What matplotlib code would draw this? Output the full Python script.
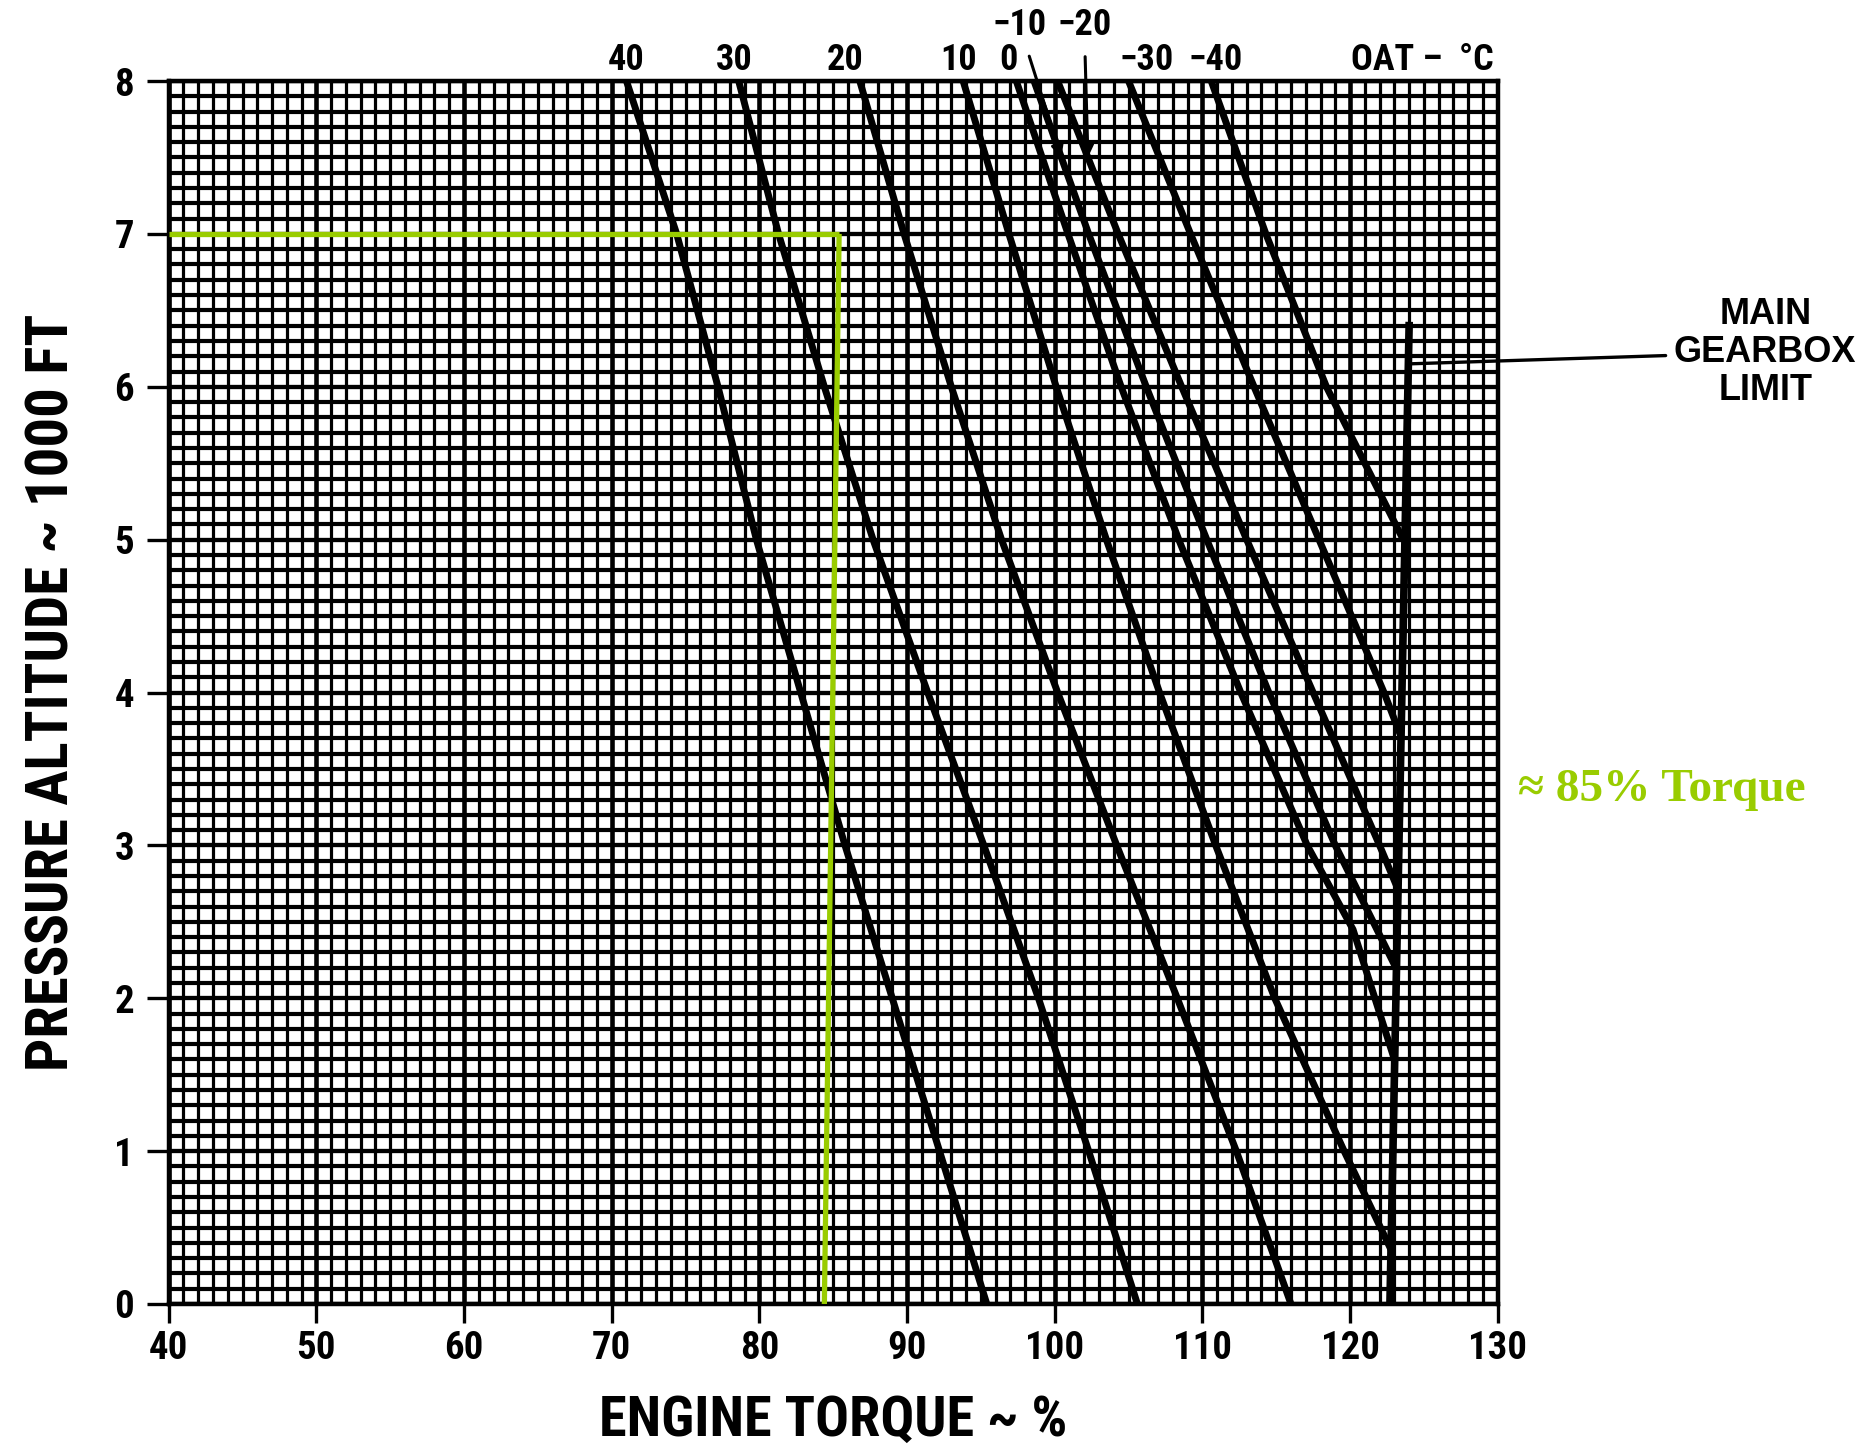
import matplotlib
matplotlib.use("Agg")
import matplotlib.pyplot as plt
import numpy as np
from matplotlib.ticker import MultipleLocator
from matplotlib import font_manager as fm
import matplotlib.transforms as mtransforms

# ---------------- data ----------------
OAT_LABELS = ["40", "30", "20", "10", "0", "\u221210", "\u221220", "\u221230", "\u221240"]

ALT_40 = [8, 7, 6, 5, 4, 3, 2, 1, 0]
TQ_40 = [71.0, 74.4, 77.2, 79.8, 82.8, 85.8, 89.0, 92.2, 95.4]

ALT_30 = [8, 7, 6, 5, 4, 3, 2, 1, 0]
TQ_30 = [78.6, 81.3, 84.4, 87.7, 91.4, 95.2, 98.9, 102.3, 105.6]

ALT_20 = [8, 7, 6, 5, 4, 3, 2, 1, 0]
TQ_20 = [86.8, 89.8, 93.0, 96.4, 100.2, 104.2, 108.3, 112.3, 116.0]

ALT_10 = [8, 7, 6, 5, 4, 3, 2, 1, 0.35]
TQ_10 = [93.8, 96.9, 100.1, 103.5, 107.1, 110.9, 114.9, 119.6, 122.8]

ALT_0 = [8, 7, 6, 5, 4, 3, 2.45, 1.6]
TQ_0 = [97.4, 100.9, 104.5, 108.4, 112.6, 117.1, 120.2, 123.0]

ALT_M10 = [8, 7, 6, 5, 4, 3, 2.2]
TQ_M10 = [98.6, 102.3, 106.2, 110.3, 114.5, 119.0, 123.1]

ALT_M20 = [8, 7, 6, 5, 4, 3, 2.7]
TQ_M20 = [100.2, 104.3, 108.6, 113.0, 117.5, 122.0, 123.3]

ALT_M30 = [8, 7, 6, 5, 4, 3.7]
TQ_M30 = [105.0, 109.2, 113.5, 117.9, 122.3, 123.5]

ALT_M40 = [8, 7, 6, 5.0]
TQ_M40 = [110.6, 114.3, 118.4, 123.6]

LIMIT_ALT = [6.4, 0]
LIMIT_TQ = [124.0, 122.7]

X_TICKS = [40, 50, 60, 70, 80, 90, 100, 110, 120, 130]
Y_TICKS = [0, 1, 2, 3, 4, 5, 6, 7, 8]

EXAMPLE_ALT = 7
EXAMPLE_TQ_TOP = 85.4
EXAMPLE_TQ_BOTTOM = 84.4

CURVES = [(ALT_40, TQ_40), (ALT_30, TQ_30), (ALT_20, TQ_20), (ALT_10, TQ_10),
          (ALT_0, TQ_0), (ALT_M10, TQ_M10), (ALT_M20, TQ_M20), (ALT_M30, TQ_M30),
          (ALT_M40, TQ_M40)]

# ---------------- fonts ----------------
names = {f.name for f in fm.fontManager.ttflist}
if "Liberation Sans Narrow" in names:
    NARROW, K = "Liberation Sans Narrow", 1.0
elif "Roboto Condensed" in names:
    NARROW, K = "Roboto Condensed", 0.9
else:
    NARROW, K = "Liberation Sans", 0.82
plt.rcParams["font.family"] = [NARROW, "DejaVu Sans"]
plt.rcParams["font.weight"] = "bold"
WIDE = ["Liberation Sans", "DejaVu Sans"]

GREEN = "#99CC00"

fig = plt.figure(figsize=(18.64, 14.5), dpi=100)
ax = fig.add_axes([0.0905, 0.1007, 0.7130, 0.8434])
ax.set_xlim(40, 130)
ax.set_ylim(0, 8)

# grid
ax.xaxis.set_major_locator(MultipleLocator(10))
ax.xaxis.set_minor_locator(MultipleLocator(1))
ax.yaxis.set_major_locator(MultipleLocator(1))
ax.yaxis.set_minor_locator(MultipleLocator(0.1))
ax.set_axisbelow(True)
ax.grid(which="minor", axis="x", color="black", lw=2.3)
ax.grid(which="minor", axis="y", color="black", lw=3.0)
ax.grid(which="major", axis="x", color="black", lw=3.3)
ax.grid(which="major", axis="y", color="black", lw=3.1)
for s in ax.spines.values():
    s.set_linewidth(3.2)

ax.set_xticks(X_TICKS)
ax.set_yticks(Y_TICKS)
ax.set_xticklabels([str(v) for v in X_TICKS])
ax.set_yticklabels([str(v) for v in Y_TICKS])
ax.tick_params(which="minor", length=0)
ax.tick_params(axis="x", which="major", direction="out", length=14, width=2.4,
               pad=5, labelsize=31 * K)
ax.tick_params(axis="y", which="major", direction="out", length=16, width=2.4,
               pad=9, labelsize=31 * K)

# curves
for alt, tq in CURVES:
    ax.plot(tq, alt, color="black", lw=5.0, solid_capstyle="butt", zorder=3)
ax.plot(LIMIT_TQ, LIMIT_ALT, color="black", lw=5.5, zorder=3)

# example path (green)
ax.plot([40, EXAMPLE_TQ_TOP], [EXAMPLE_ALT, EXAMPLE_ALT], color=GREEN, lw=3.8, zorder=4,
        solid_capstyle="butt")
ax.plot([EXAMPLE_TQ_TOP, EXAMPLE_TQ_BOTTOM], [EXAMPLE_ALT, 0], color=GREEN, lw=3.8,
        zorder=4, solid_capstyle="butt")

# OAT labels on top
trans = mtransforms.blended_transform_factory(ax.transData, ax.transAxes)
label_x = [71.0, 78.3, 85.8, 93.5, 96.9, 97.6, 102.0, 106.2, 110.9]
label_y = [1.017, 1.017, 1.017, 1.017, 1.017, 1.046, 1.046, 1.017, 1.017]
for i, (txt, lx, ly) in enumerate(zip(OAT_LABELS, label_x, label_y)):
    if i in (5, 6):
        alt, tq = CURVES[i]
        tgt = np.interp(7.5, alt[::-1], tq[::-1])
        ax.annotate(txt, xy=(tgt, 7.5), xycoords="data",
                    xytext=(lx, ly), textcoords=trans, ha="center", va="center",
                    fontsize=29 * K, fontweight="bold",
                    arrowprops=dict(arrowstyle="-|>", color="black", lw=2.2,
                                    mutation_scale=18, shrinkA=8, shrinkB=0))
    else:
        ax.text(lx, ly, txt, transform=trans, ha="center", va="center",
                fontsize=29 * K, fontweight="bold")
ax.text(124.9, 1.017, "OAT \u2013  \u00b0C", transform=trans, ha="center", va="center",
        fontsize=29 * K, fontweight="bold")

# gearbox limit label
ax.annotate("MAIN\nGEARBOX\nLIMIT", xy=(124.0, 6.15), xycoords="data",
            xytext=(0.947, 0.757), textcoords="figure fraction",
            ha="center", va="center", fontsize=26, fontweight="bold",
            family=WIDE, linespacing=1.12,
            arrowprops=dict(arrowstyle="-", color="black", lw=2.4, shrinkA=4, shrinkB=0))

# green annotation text
fig.text(0.8917, 0.455, "\u2248 85% Torque", color=GREEN, ha="center", va="center",
         fontsize=34, fontweight="bold", family=["Liberation Serif", "DejaVu Serif"])

# axis labels
ax.set_xlabel("ENGINE TORQUE ~ %", fontsize=45 * K, fontweight="bold", labelpad=20)
ax.set_ylabel("PRESSURE ALTITUDE ~ 1000 FT", fontsize=47 * K, fontweight="bold",
              labelpad=24)

fig.savefig("out.png", dpi=100, facecolor="white")
